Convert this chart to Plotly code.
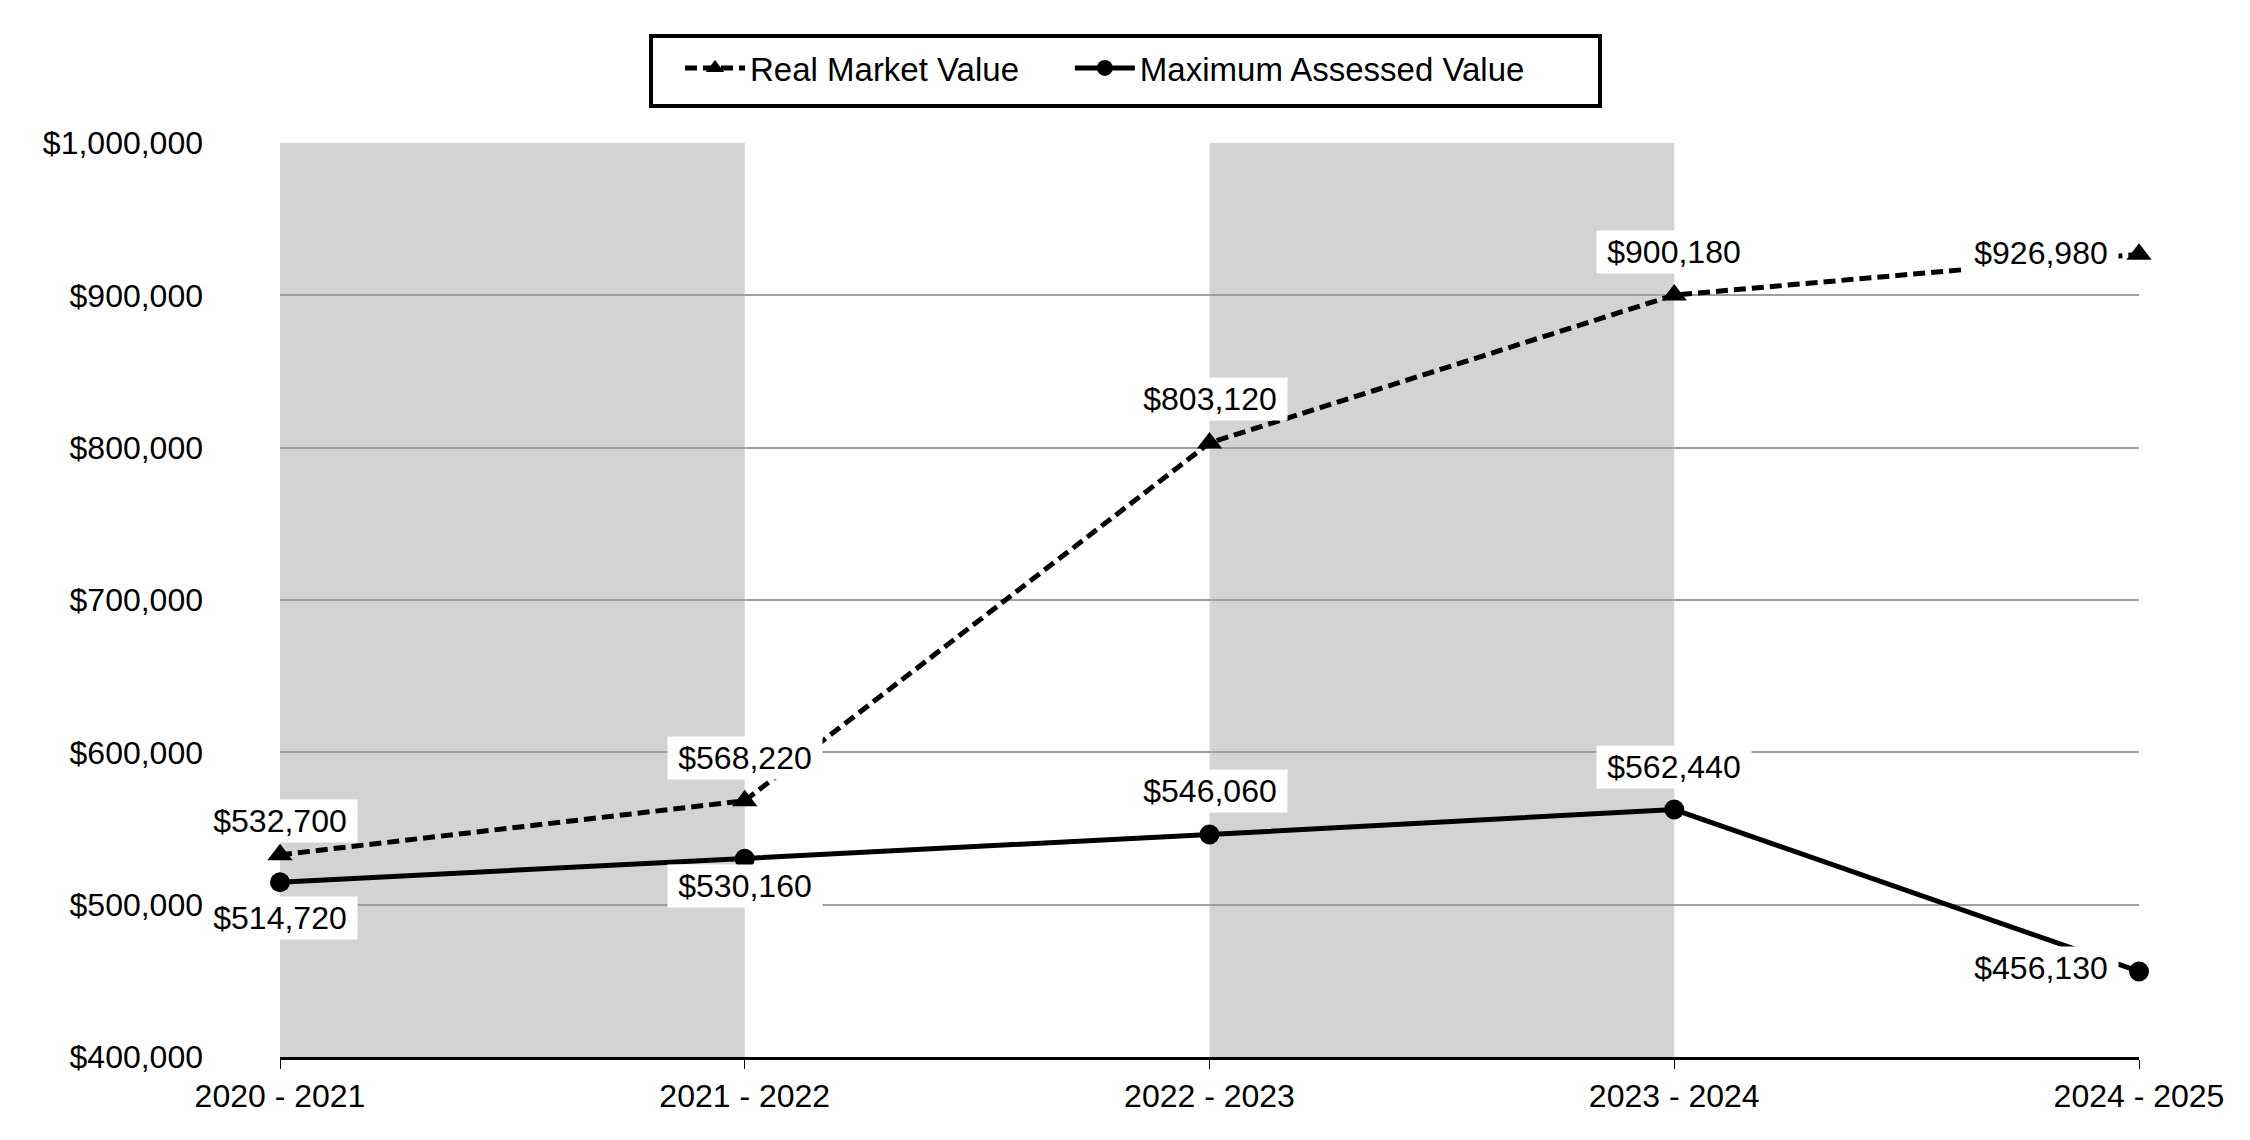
import plotly.graph_objects as go

years = ["2020 - 2021", "2021 - 2022", "2022 - 2023", "2023 - 2024", "2024 - 2025"]
real_market = [532700, 568220, 803120, 900180, 926980]
max_assessed = [514720, 530160, 546060, 562440, 456130]
y_ticks = [400000, 500000, 600000, 700000, 800000, 900000, 1000000]
y_tick_text = ["$" + format(v, ",") for v in y_ticks]
series_names = ["Real Market Value", "Maximum Assessed Value"]

# label placement (style only): (xanchor, xshift, yshift)
rmv_place = [("center", 0, 34), ("center", 0, 43), ("center", 0, 44), ("center", 0, 43), ("right", -20, 1)]
mav_place = [("center", 0, -36), ("center", 0, -27), ("center", 0, 44), ("center", 0, 43), ("right", -20, 4)]

FONT = "Liberation Sans, Arial, sans-serif"
W, H = 2250, 1140
OFF = 8  # page body margin
L, R, T, B = 280 - OFF, W - (2139 - OFF), 143 - OFF, H - (1057 - OFF)
PW, PH = W - L - R, H - T - B

def px_x(p):
    return (p - OFF - L) / PW

def px_y(p):
    return 1 - (p - OFF - T) / PH

GAP = "\u00a0" * 5

fig = go.Figure()
fig.add_trace(go.Scatter(
    x=years, y=real_market, name=series_names[0] + GAP, mode="lines+markers",
    line=dict(color="black", width=5, dash="12px,6px"),
    marker=dict(symbol="triangle-up", size=22, color="black"),
    cliponaxis=False,
))
fig.add_trace(go.Scatter(
    x=years, y=max_assessed, name=series_names[1], mode="lines+markers",
    line=dict(color="black", width=5),
    marker=dict(symbol="circle", size=20, color="black"),
    cliponaxis=False,
))

shapes = []
for i in range(0, len(years) - 1, 2):
    shapes.append(dict(type="rect", xref="x", yref="paper", x0=i, x1=i + 1, y0=0, y1=1,
                       fillcolor="#d3d3d3", line=dict(width=0), layer="below"))
# legend frame
shapes.append(dict(type="rect", xref="paper", yref="paper",
                   x0=px_x(651), x1=px_x(1600), y0=px_y(106), y1=px_y(36),
                   fillcolor="rgba(0,0,0,0)", line=dict(color="black", width=4), layer="above"))

annotations = []
for vals, places in ((real_market, rmv_place), (max_assessed, mav_place)):
    for xi, v, (xa, xs, ys) in zip(years, vals, places):
        annotations.append(dict(
            x=xi, y=v, xref="x", yref="y", text=f"${v:,.0f}", showarrow=False,
            xanchor=xa, yanchor="middle", xshift=xs, yshift=ys,
            bgcolor="white", borderpad=3, width=148,
            font=dict(family=FONT, size=32, color="black"),
        ))

fig.update_layout(
    width=W, height=H,
    margin=dict(l=L, r=R, t=T, b=B),
    paper_bgcolor="white", plot_bgcolor="white",
    font=dict(family=FONT, size=32, color="black"),
    shapes=shapes, annotations=annotations,
    showlegend=True,
    legend=dict(
        orientation="h", xref="paper", yref="paper",
        x=px_x(680), xanchor="left", y=px_y(68), yanchor="middle",
        borderwidth=0, bgcolor="rgba(0,0,0,0)",
        font=dict(family=FONT, size=33, color="black"),
        itemwidth=60,
    ),
    xaxis=dict(
        type="category", range=[0, len(years) - 1], showgrid=False,
        showline=True, linecolor="black", linewidth=3,
        ticks="outside", ticklen=9, tickwidth=1, tickcolor="black",
        tickfont=dict(family=FONT, size=32, color="black"), zeroline=False,
    ),
    yaxis=dict(
        range=[y_ticks[0], y_ticks[-1]], tickvals=y_ticks, ticktext=y_tick_text,
        showgrid=True, gridcolor="#a0a0a0", gridwidth=2, zeroline=False,
        showline=False, ticks="", ticklabelstandoff=76,
        tickfont=dict(family=FONT, size=32, color="black"),
    ),
)

fig.write_html("out.html")
